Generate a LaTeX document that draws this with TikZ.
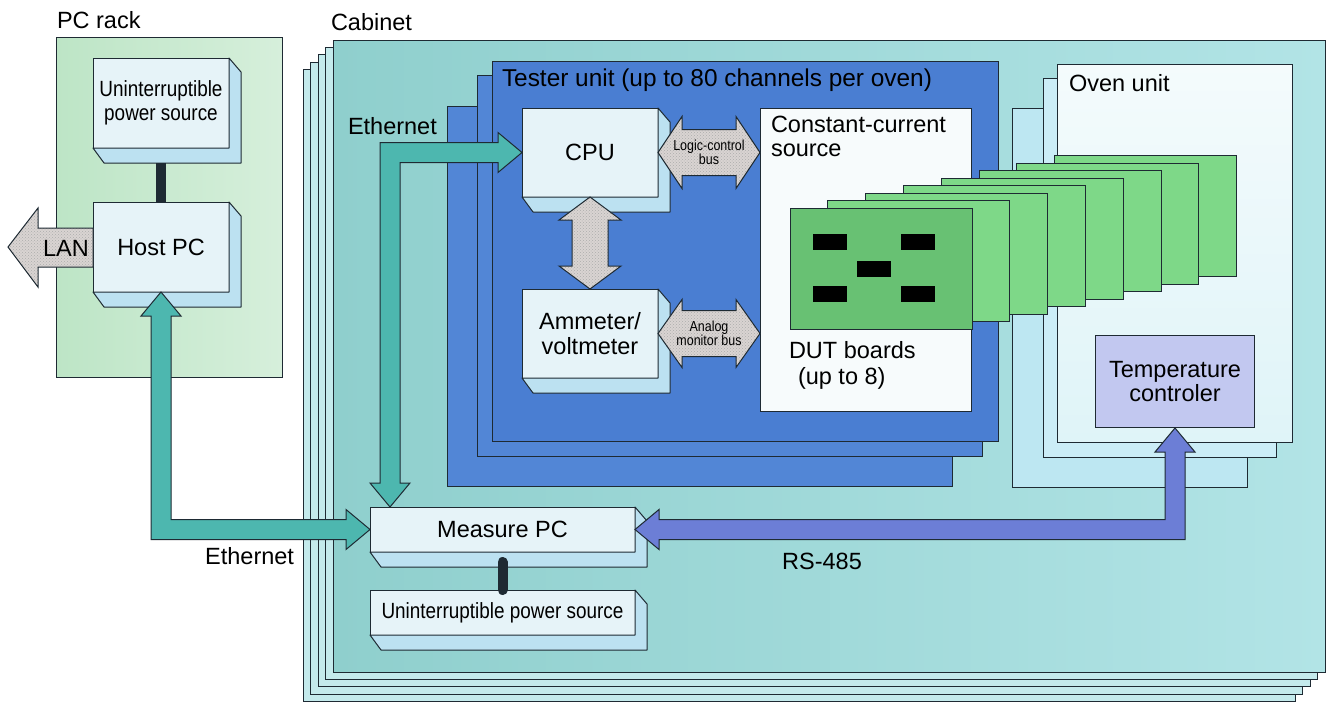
\documentclass[tikz,border=0pt]{standalone}
\usepackage{fontspec}
\setmainfont{Liberation Sans}
\newfontfamily\narrowfont[FakeStretch=0.86]{Liberation Sans}
\usetikzlibrary{calc,patterns,positioning}

\definecolor{linec}{HTML}{1E2A33}
\definecolor{rackA}{HTML}{BDE5C6}
\definecolor{rackB}{HTML}{D6EFDB}
\definecolor{cabA}{HTML}{8FCFCD}
\definecolor{cabB}{HTML}{B2E4E6}
\definecolor{cabback}{HTML}{C4EAEC}
\definecolor{tester}{HTML}{4A7ED2}
\definecolor{testerback}{HTML}{5286D6}
\definecolor{ovenback}{HTML}{BDE7F2}
\definecolor{ovenmid}{HTML}{CBEDF7}
\definecolor{ovenA}{HTML}{DFF4F8}
\definecolor{ovenB}{HTML}{F4FBFC}
\definecolor{boardA}{HTML}{68C173}
\definecolor{boardB}{HTML}{7ED888}
\definecolor{facec}{HTML}{E6F3F8}
\definecolor{sidec}{HTML}{BCE1F1}
\definecolor{tempc}{HTML}{C2C8F0}
\definecolor{netc}{HTML}{4DB7AF}
\definecolor{rsc}{HTML}{6C7ED6}
\definecolor{busc}{HTML}{D9D4D2}
\definecolor{ccsc}{HTML}{F7FBFC}

\newcommand{\lblfont}{\fontsize{23.5}{25}\selectfont}
\newcommand{\upsfont}{\narrowfont\fontsize{22}{24}\selectfont}
\newcommand{\busfont}{\narrowfont\fontsize{14.5}{14}\selectfont}

% front face of a box and its extruded side
\newcommand{\slab}[1]{%
	\draw[side] (#1.north east) -- ++(12,14) -- ($(#1.south east)+(12,15)$)
		-- ($(#1.south west)+(11,15)$) -- (#1.south west) -- (#1.south east) -- cycle;}

\tikzset{
	outline/.style = {draw=linec, line width=1pt},
	sheet/.style   = {outline, fill=cabback},
	side/.style    = {outline, fill=sidec, line join=round},
	lbl/.style     = {inner sep=0pt, outer sep=0pt, font=\lblfont},
	face/.style    = {
			rectangle, outline,
			fill            = facec,
			inner sep       = 0pt,
			outer sep       = 0pt,
			align           = center,
			font            = \lblfont,
			anchor          = north west,
		},
	board/.style   = {rectangle, outline, anchor=north west, minimum width=182pt, minimum height=121pt, inner sep=0pt, outer sep=0pt},
	netarrow/.style = {outline, fill=netc, line join=miter},
	rsarrow/.style  = {outline, fill=rsc, line join=miter},
	busarrow/.style = {outline, preaction={fill=busc}, pattern=crosshatch dots, pattern color=gray!65},
}

\begin{document}
\begin{tikzpicture}[x=1pt, y=-1pt]
	\useasboundingbox (0,0) rectangle (1337,704);

	% PC rack
	\draw[outline, left color=rackA, right color=rackB] (56,37) rectangle (282,377);
	\node[lbl, anchor=west] (racklbl) at (57,20) {PC rack};

	% Cabinet (stacked sheets)
	\foreach \k in {4,...,1}
		\draw[sheet] ({333-7.4*\k},{40+7.4*\k}) rectangle ++(992,632);
	\draw[outline, left color=cabA, right color=cabB] (333,40) rectangle (1325,672);
	\node[lbl, anchor=west] (cablbl) at (331,22) {Cabinet};

	% Tester unit
	\draw[outline, fill=testerback] (447,106) rectangle (952,486);
	\draw[outline, fill=testerback] (477,75) rectangle (982,456);
	\draw[outline, fill=tester] (492,61) rectangle (998,441);
	\node[lbl, anchor=west, font=\fontsize{24.4}{25}\selectfont] (testlbl) at (502,80) {Tester unit (up to 80 channels per oven)};

	% Oven unit
	\draw[outline, fill=ovenback] (1012,108) rectangle (1247,487);
	\draw[outline, fill=ovenmid] (1043,78) rectangle (1276,457);
	\draw[outline, top color=ovenB, bottom color=ovenA] (1057,64) rectangle (1292,442);
	\node[lbl, anchor=west] (ovenlbl) at (1069,83) {Oven unit};

	% Constant-current source
	\node[rectangle, outline, fill=ccsc, anchor=north west, minimum width=211pt, minimum height=303pt] (ccs) at (760,108) {};
	\node[lbl, anchor=north west, align=left, font=\fontsize{23.5}{24}\selectfont] (ccslbl) at (771,116) {Constant-current\\source};

	% DUT boards
	\foreach \k in {7,...,1}
		\node[board, fill=boardB] (dut\k) at ({790+37.8*\k},{208-7.45*\k}) {};
	\node[board, fill=boardA] (dut0) at (790,208) {};
	\foreach \cx/\cy in {23/26, 111/26, 67/53, 23/78, 111/78}
		\fill ($(dut0.north west)+(\cx,\cy)$) rectangle ++(34,16);
	\node[lbl, anchor=north west, align=left, font=\fontsize{23.5}{26}\selectfont] (dutlbl) at (789,341) {DUT boards\\\hspace*{9pt}(up to 8)};

	% Temperature controler
	\node[rectangle, outline, fill=tempc, anchor=north west, minimum width=159pt, minimum height=92pt, align=center, font=\fontsize{23.5}{24}\selectfont] (temp) at (1095,335) {Temperature\\controler};

	% Boxes
	\node[face, minimum width=136pt, minimum height=90pt, font=\upsfont] (ups1) at (93,58) {Uninterruptible\\power source};
	\node[face, minimum width=136pt, minimum height=90pt, below=54pt of ups1.south west, anchor=north west] (host) {Host PC};
	\node[face, minimum width=136pt, minimum height=89pt] (cpu) at (522,108) {CPU};
	\node[face, minimum width=136pt, minimum height=89pt, below=92pt of cpu.south west, anchor=north west] (amm) {Ammeter/\\voltmeter};
	\node[face, minimum width=265pt, minimum height=45pt] (mpc) at (370,507) {Measure PC};
	\node[face, minimum width=265pt, minimum height=45pt, below=38pt of mpc.south west, anchor=north west, font=\upsfont] (ups2) {Uninterruptible power source};
	\foreach \n in {ups1,host,cpu,amm,mpc,ups2}
		{\slab{\n}}

	% Power lines
	\draw[line width=10pt, linec] ($(ups1.south)+(0,15)$) -- (host.north);
	\draw[line width=10pt, linec, line cap=round] ($(mpc.south)+(0,10)$) -- (ups2.north);

	% LAN
	\draw[busarrow] (host.west) -- ++(0,-19) -- ++(-55,0) -- ++(0,-20) -- ++(-30,39)
		-- ++(30,40) -- ++(0,-20) -- ++(55,0) -- cycle;
	\node[lbl] (lanlbl) at (66,248) {LAN};

	% Ethernet: host PC -- measure PC
	\draw[netarrow] (host.south) -- ++(20,24) -- ++(-10,0) |- ($(mpc.west)+(-24,-10)$) -- ++(0,-10)
		-- (mpc.west) -- ++(-24,20) -- ++(0,-10) -| ($(host.south)+(-10,24)$) -- ++(-10,0) -- cycle;
	\node[lbl, anchor=east] (eth2lbl) at (294,556) {Ethernet};

	% Ethernet: CPU -- measure PC
	\draw[netarrow] (cpu.west) -- ++(-24,-20) -- ++(0,10) -| ($(mpc.north west)+(10,-24)$) -- ++(-10,0)
		-- ($(mpc.north west)+(20,0)$) -- ++(20,-24) -- ++(-10,0) |- ($(cpu.west)+(-24,10)$) -- ++(0,10) -- cycle;
	\node[lbl, anchor=west] (eth1lbl) at (348,126) {Ethernet};

	% RS-485
	\draw[rsarrow] (mpc.east) -- ++(24,-20) -- ++(0,10) -| ($(temp.south)+(-10,24)$) -- ++(-10,0)
		-- (temp.south) -- ++(20,24) -- ++(-10,0) |- ($(mpc.east)+(24,10)$) -- ++(0,10) -- cycle;
	\node[lbl] (rslbl) at (822,561) {RS-485};

	% Buses
	\draw[busarrow] (cpu.south) -- ++(31,23) -- ++(-13,0) -- ($(amm.north)+(18,-23)$) -- ++(13,0)
		-- (amm.north) -- ++(-31,-23) -- ++(13,0) -- ($(cpu.south)+(-18,23)$) -- ++(-13,0) -- cycle;
	\draw[busarrow] (cpu.east) -- ++(24,-36) -- ++(0,13) -- ($(ccs.west |- cpu.east)+(-24,-23)$) -- ++(0,-13)
		-- (ccs.west |- cpu.east) -- ++(-24,36) -- ++(0,-13) -- ($(cpu.east)+(24,23)$) -- ++(0,13) -- cycle;
	\node[lbl, align=center, font=\busfont] (lcblbl) at ($(cpu.east)!0.5!(ccs.west |- cpu.east)$) {Logic-control\\bus};
	\draw[busarrow] (amm.east) -- ++(24,-34) -- ++(0,11) -- ($(ccs.west |- amm.east)+(-24,-23)$) -- ++(0,-11)
		-- (ccs.west |- amm.east) -- ++(-24,34) -- ++(0,-11) -- ($(amm.east)+(24,23)$) -- ++(0,11) -- cycle;
	\node[lbl, align=center, font=\busfont] (amblbl) at ($(amm.east)!0.5!(ccs.west |- amm.east)$) {Analog\\monitor bus};
\end{tikzpicture}
\end{document}
